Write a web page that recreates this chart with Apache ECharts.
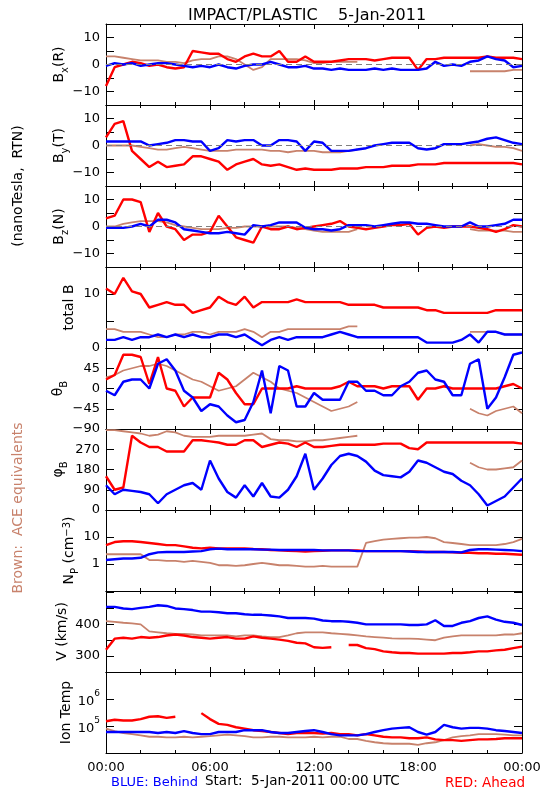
<!DOCTYPE html>
<html><head><meta charset="utf-8">
<script src="https://cdn.jsdelivr.net/npm/echarts@6/dist/echarts.min.js"></script>
<style>html,body{margin:0;padding:0;background:#fff}#c{width:550px;height:800px}</style>
</head><body><div id="c"></div><script>
// ---- data (hours since 00:00 UTC, 5-Jan-2011) ----
const hours = [0,0.5,1,1.5,2,2.5,3,3.5,4,4.5,5,5.5,6,6.5,7,7.5,8,8.5,9,9.5,10,10.5,11,11.5,12,12.5,13,13.5,14,14.5,15,15.5,16,16.5,17,17.5,18,18.5,19,19.5,20,20.5,21,21.5,22,22.5,23,23.5,24];
const timeLabels = ['00:00','06:00','12:00','18:00','00:00'];
const _ = null;
const bxRed   = [-8,-1,0,1,0.5,-0.5,0,-1,-1.5,-1,5,4.5,4,4,2,1,3,4,3,3,5,1,1,3,1,1,1,1.5,2,2,2,1.5,2,2.5,2.5,2.5,-2,2,2,2.5,2.5,2.5,2.5,2.5,3,2.5,2.5,2.5,2];
const bxBlue  = [-0.5,0.5,0,0.5,-0.5,0,0.5,0.5,0,-0.5,-1,-0.5,-1,0,-1,-1.5,-0.5,0,0,1,0,-1,-1,-0.5,-1.5,-1.5,-2,-1.5,-2,-2,-2,-1.5,-2,-1.5,-2,-2,-2,-1.5,1,-0.5,0,-0.5,1,1.5,3,2,1.5,-1,-0.5];
const bxBrown = [3,3,2.5,2,1.5,1.5,1.5,1,1,0.5,1.5,2,2,3,3,2,0,-2,-1,2,2,2,2,1.5,0.5,0.5,1,1,1,1,_,_,_,_,_,_,_,_,_,_,_,_,-2.5,-2.5,-2.5,-2.5,-2.5,-2,-2];
const byRed   = [3,8,9,-2,-5,-8,-6,-8,-7.5,-7,-4,-4,-5,-6,-9,-7,-6,-5,-7,-7.5,-7,-8,-9,-8.5,-9,-9,-9,-8.5,-8.5,-8.5,-8,-8,-8,-7.5,-7.5,-7.5,-7,-7,-7,-6.5,-6.5,-6.5,-6.5,-6.5,-6.5,-6.5,-6.5,-6.5,-7];
const byBlue  = [1.5,1.5,1.5,1.5,1.5,0,0.5,1,2,2,1.5,1.5,-2,-1,2,1.5,2,2,0,0,2,2,1.5,-2,1.5,1,-2,-2,-2,-1.5,-1,0,0.5,1,1,1,-1,-1.5,-1,0.5,0.5,0.5,1,1.5,2.5,3,2,1,0.5];
const byBrown = [0,0,0,0,-0.5,-1,-1.5,-1.5,-1,-0.5,-1,-1.5,-2,-2,-2,-1.5,-1.5,-1.5,-1.5,-2,-2,-2.5,-2,-2,-2,-2.5,-2.5,-2.5,-2,-1.5,_,_,_,_,_,_,_,_,_,_,_,_,0,0.5,0,-0.5,-0.5,-1,-2];
const bzRed   = [3,4,10,10,9,-2,5,0,-1,-5,-3,-3,-2,4,0,-4,-5,-6,0,-1,-1,0,-1,-0.5,0,0.5,1,2,0,-0.5,-1,-0.5,0,0.5,0.5,1,-3,-0.5,0,-0.5,0,0,0,-0.5,-1,-2,-1,0.5,0];
const bzBlue  = [-0.5,-0.5,-0.5,0,1,0,2.5,2.5,1.5,-1,-1.5,-2,-2.5,-2.5,-2,-2.5,-3,0.5,0,0.5,1.5,1.5,1.5,-0.5,-1,-1,-1.5,-1,0.5,0.5,0.5,0,0.5,1,1.5,1.5,1,1,0.5,0,0,0,1.5,0,0,0.5,1,2.5,2.5];
const bzBrown = [0,0,1,1.5,2,2,2,1.5,0.5,0,-0.5,-1,-1,-1,-0.5,-0.5,0,0,0,0,0,0,-0.5,-1,-1.5,-2,-2,-2,-2,-1,_,_,_,_,_,_,_,_,_,_,_,_,-1,-1.5,-1.5,-1.5,-1.5,-2,-2];
const btRed   = [11,10,13,10.5,10,7.5,8,8.5,8,8,6.5,7,7.5,9.5,8.5,8,9.5,7.5,8.5,8.5,8.5,8.5,9,8.5,8.5,8.5,8.5,8.5,8,8,8,8,7.5,7.5,7.5,7.5,7.5,7,7,6.5,6.5,6.5,6.5,6.5,6.5,7,7,7,7];
const btBlue  = [1.5,1.5,2,1.5,2,2,2.5,2,2.5,2,2.5,2,2,2.5,2.5,2,2.5,1.5,0.5,1.5,2,1.5,2,2,2,2,2.5,3,2.5,2,2,2,2,2,2,2,2,1,1,1,1,1.5,2.5,1,3,3,2.5,2.5,2.5];
const btBrown = [3.5,3.5,3,3,3,2.5,2,2,2.5,2.5,3,3,2.5,3,3,3,3.5,3,2,3,3,3.5,3.5,3.5,3.5,3.5,3.5,3.5,4,4,_,_,_,_,_,_,_,_,_,_,_,_,3,3,3,3,2.5,2.5,2.5];
const thRed   = [20,30,75,75,70,10,70,0,-5,-40,-20,-20,-20,35,20,-10,-35,-35,0,0,0,0,5,0,0,0,0,5,15,5,5,5,0,5,5,5,-25,0,0,5,0,0,0,0,0,0,5,10,0];
const thBlue  = [-5,-15,15,20,20,0,55,65,40,-5,-20,-50,-35,-40,-60,-75,-70,-30,40,-55,50,40,-40,-40,-10,-25,-25,-25,15,15,-5,-5,-15,-15,5,15,35,40,20,15,-15,-15,55,65,-45,-20,25,75,80];
const thBrown = [25,30,40,45,50,50,55,50,40,30,20,15,5,-5,0,5,20,35,25,15,0,-5,-10,-20,-30,-40,-50,-45,-40,-30,_,_,_,_,_,_,_,_,_,_,_,_,-45,-55,-60,-50,-45,-40,-55];
const phRed   = [150,90,100,330,300,280,280,260,260,260,310,310,305,300,290,290,310,310,280,290,300,295,280,300,280,280,285,290,290,290,290,290,295,295,295,275,270,300,300,300,300,300,300,300,300,300,300,300,295];
const phBlue  = [110,70,90,85,80,70,30,70,90,110,120,90,220,140,80,55,110,60,120,60,55,90,150,250,90,140,200,240,250,240,215,175,155,150,145,170,220,210,190,170,160,130,110,70,20,40,60,100,140];
const phBrown = [355,355,350,345,340,330,335,350,345,330,325,325,325,330,330,330,330,335,340,315,310,310,305,305,310,310,315,320,325,330,_,_,_,_,_,_,_,_,_,_,_,_,210,190,180,180,185,190,220];
const npRed   = [5,6.5,7,7,6.5,6,5.5,5,5,4.5,4,3.8,4,3.8,3.8,3.8,3.8,3.6,3.5,3.3,3.2,3.1,3,2.9,3,3.1,3.2,3.2,3.2,3.2,3,3,3,3,3,3,2.9,2.8,2.8,2.8,2.7,2.6,2.6,2.5,2.5,2.4,2.4,2.3,2.2];
const npBlue  = [1.4,1.5,1.6,1.6,1.7,2.3,2.7,2.8,2.8,2.8,2.9,3,3.5,3.7,3.5,3.5,3.5,3.5,3.4,3.4,3.3,3.3,3.3,3.3,3.3,3.2,3.2,3.2,3.2,3,3,3,3,3,3,2.9,2.8,2.8,2.8,2.8,2.8,2.7,3.3,3.5,3.5,3.4,3.3,3.2,3];
const npBrown = [2.3,2.3,2.3,2.3,2.3,1.4,1.4,1.3,1.3,1.2,1.3,1.2,1.1,0.9,0.9,0.85,0.9,1,1.1,1,0.9,0.9,0.85,0.8,0.8,0.85,0.8,0.8,0.8,0.8,6,7,8,8.5,9,9.5,9.5,10,9,6.5,6,5.5,5,5,5,5,5.5,6.5,8.5];
const vRed    = [320,355,358,355,360,358,360,365,368,365,360,358,355,358,360,355,355,362,358,355,352,348,342,340,328,326,328,_,335,335,325,322,315,312,310,310,308,308,308,308,310,310,312,315,315,318,320,325,330];
const vBlue   = [455,455,450,448,452,455,460,458,450,448,445,440,440,438,435,435,432,430,430,428,425,420,420,420,418,412,410,410,408,405,400,400,400,400,400,398,398,400,413,395,395,405,410,420,425,415,408,405,398];
const vBrown  = [410,408,405,403,400,378,375,372,370,370,368,365,365,365,365,362,365,365,362,360,360,365,372,375,375,375,372,370,368,365,362,360,358,356,355,355,354,352,350,358,362,365,365,365,365,365,368,368,372];
const tRed    = [1.5e5,1.7e5,1.6e5,1.6e5,1.8e5,2.2e5,2.3e5,2e5,2.2e5,_,_,3e5,1.8e5,1.2e5,1.1e5,9e4,8e4,7e4,6.5e4,6e4,5.5e4,5e4,5.5e4,5.5e4,5.5e4,5.2e4,5.5e4,5e4,5e4,4.5e4,5e4,4.5e4,4e4,3.8e4,3.8e4,3.5e4,3.5e4,3.8e4,3.2e4,3e4,3e4,2.8e4,3e4,3.2e4,3.2e4,3.3e4,3.5e4,3.5e4,3.5e4];
const tBlue   = [6e4,6e4,6e4,6e4,6e4,6e4,5.5e4,6e4,5.5e4,6.5e4,5.5e4,5e4,5e4,6e4,6e4,6e4,7e4,7e4,7e4,6e4,5.5e4,5.5e4,6e4,6.5e4,7e4,6e4,5e4,4.5e4,4.5e4,4.5e4,5e4,6e4,7e4,8e4,8.5e4,9e4,6e4,4.8e4,6e4,1.1e5,9e4,8e4,8.5e4,8.5e4,8e4,7e4,6.5e4,6e4,5.5e4];
const tBrown  = [8e4,6.5e4,5.5e4,5e4,4.5e4,4e4,4e4,3.8e4,3.8e4,4e4,3.8e4,4e4,4.2e4,4.5e4,4.8e4,4.5e4,4.2e4,3.8e4,3.8e4,4e4,4e4,3.8e4,3.8e4,3.8e4,4e4,3.8e4,4e4,4e4,3.3e4,3.3e4,2.8e4,2.5e4,2.3e4,2.2e4,2.2e4,2.2e4,2e4,2.3e4,2.5e4,3e4,3.8e4,4.2e4,4.5e4,5e4,5e4,5e4,4.8e4,4.5e4,4.5e4];

// ---- style / layout ----
const F = 'DejaVu Sans';
const BLUE = '#0000ff', RED = '#ff0000', BROWN = '#c8826c';
const TOP0 = 24, H = 81, LEFT = 106, RIGHT = 28;

const num = v => (v < 0 ? '\u2212' + Math.abs(v) : String(v));
const show = list => v => (list.indexOf(Math.round(v)) >= 0 ? num(Math.round(v)) : '');
const logExp = v => Math.round(Math.log10(v));
const panels = [
  {r: bxRed, b: bxBlue, w: bxBrown, y: {type:'value', min:-15, max:15, interval:5}, fmt: show([-10,0,10]), zero:true},
  {r: byRed, b: byBlue, w: byBrown, y: {type:'value', min:-15, max:15, interval:5}, fmt: show([-10,0,10]), zero:true},
  {r: bzRed, b: bzBlue, w: bzBrown, y: {type:'value', min:-15, max:15, interval:5}, fmt: show([-10,0,10]), zero:true},
  {r: btRed, b: btBlue, w: btBrown, y: {type:'value', min:0, max:15, interval:5}, fmt: show([0,10])},
  {r: thRed, b: thBlue, w: thBrown, y: {type:'value', min:-90, max:90, interval:45}, fmt: show([-90,-45,0,45])},
  {r: phRed, b: phBlue, w: phBrown, y: {type:'value', min:0, max:360, interval:90}, fmt: show([0,90,180,270])},
  {r: npRed, b: npBlue, w: npBrown, y: {type:'log', logBase:10, min:0.1, max:100}, fmt: v => {const e = logExp(v); return e===0?'1':e===1?'10':'';}},
  {r: vRed, b: vBlue, w: vBrown, y: {type:'value', min:250, max:505, interval:50}, fmt: show([300,400])},
  {r: tRed, b: tBlue, w: tBrown, y: {type:'log', logBase:10, min:1e4, max:1e7}, fmt: v => {const e = logExp(v); return (e===5||e===6)?'{n|10}{s|'+e+'}':'';}}
];

const grids = [], xAxes = [], yAxes = [], series = [];
const lineBlack = {color:'#000', width:1};
panels.forEach((p, i) => {
  grids.push({left: LEFT, right: RIGHT, top: TOP0 + H*i, height: H, show:false});
  const xBase = {type:'value', gridIndex:i, min:0, max:24, interval:6,
    axisLine:{show:true, onZero:false, lineStyle:lineBlack},
    axisTick:{show:true, inside:true, length:5, lineStyle:lineBlack},
    minorTick:{show:true, splitNumber:3, length:3, lineStyle:lineBlack},
    splitLine:{show:false}, minorSplitLine:{show:false}};
  xAxes.push(Object.assign({}, xBase, {position:'bottom',
    axisLabel:{show: i === panels.length-1, color:'#000', fontFamily:F, fontSize:13, margin:8,
      formatter: v => timeLabels[Math.round(v/6)]}}));
  xAxes.push(Object.assign({}, xBase, {position:'top', axisLabel:{show:false}}));
  const yBase = Object.assign({gridIndex:i,
    axisLine:{show:true, onZero:false, lineStyle:lineBlack},
    axisTick:{show:true, inside:true, length:8, lineStyle:lineBlack},
    splitLine:{show:false}}, p.y);
  yAxes.push(Object.assign({}, yBase, {position:'left',
    axisLabel:{show:true, color:'#000', fontFamily:F, fontSize:13, margin:6, formatter:p.fmt, showMinLabel:true, showMaxLabel:true,
      rich:{n:{fontFamily:F, fontSize:13, padding:[6,0,0,0]}, s:{fontFamily:F, fontSize:9, verticalAlign:'top'}}}}));
  yAxes.push(Object.assign({}, yBase, {position:'right', axisLabel:{show:false}}));
  const mk = (arr, color, w, z) => ({type:'line', xAxisIndex:2*i, yAxisIndex:2*i, z:z,
    data: hours.map((h,k) => [h, arr[k]]), showSymbol:false, connectNulls:false, animation:false,
    lineStyle:{color:color, width:w}, itemStyle:{color:color}, clip:true});
  const sw = mk(p.w, BROWN, 1.8, 2);
  if (p.zero) sw.markLine = {silent:true, symbol:'none', animation:false, label:{show:false},
    lineStyle:{color:'#808080', type:[6,4], width:1}, data:[{yAxis:0}]};
  series.push(sw, mk(p.r, RED, 2.4, 3), mk(p.b, BLUE, 2.4, 4));
});

const FS = 14;
const sub = {fontFamily:F, fontSize:10, verticalAlign:'bottom'};
const nrm = {fontFamily:F, fontSize:FS, padding:[0,0,4,0]};
function vtext(x, y, text, color, rich) {
  return {type:'text', x:x, y:y, rotation:Math.PI/2, silent:true,
    style:{text:text, fill:color||'#000', font:FS+'px "'+F+'"', align:'center', verticalAlign:'middle',
      textAlign:'center', textVerticalAlign:'middle', rich:rich||{}}};
}
function htext(x, y, text, color, align, fs) {
  return {type:'text', x:x, y:y, silent:true,
    style:{text:text, fill:color, font:fs+'px "'+F+'"', align:align, verticalAlign:'middle', textAlign:align, textVerticalAlign:'middle'}};
}
const pc = i => TOP0 + H*i + H/2;
const R = {n:nrm, s:sub};
const graphic = [
  vtext(61, pc(0), '{n|B}{s|x}{n|(R)}', '#000', R),
  vtext(61, pc(1), '{n|B}{s|y}{n|(T)}', '#000', R),
  vtext(61, pc(2), '{n|B}{s|z}{n|(N)}', '#000', R),
  vtext(69, pc(3), 'total B'),
  vtext(60, pc(4), '{n|θ}{s|B}', '#000', R),
  vtext(60, pc(5), '{n|φ}{s|B}', '#000', R),
  vtext(71, pc(6), '{n|N}{s|P}{n| (cm}{u|\u22123}{n|)}', '#000', {n:nrm, s:sub, u:{fontFamily:F, fontSize:10, verticalAlign:'top', padding:[0,0,8,0]}}),
  vtext(62, pc(7), 'V (km/s)'),
  vtext(66, pc(8), 'Ion Temp'),
  vtext(18, 186, '(nanoTesla,  RTN)'),
  vtext(18, 508, 'Brown:  ACE equivalents', BROWN),
  htext(111, 783, 'BLUE: Behind', BLUE, 'left', 13),
  htext(205, 781, 'Start:  5-Jan-2011 00:00 UTC', '#000', 'left', 13.5),
  htext(525, 783, 'RED: Ahead', RED, 'right', 13.5)
];

const chart = echarts.init(document.getElementById('c'), null, {renderer:'canvas'});
chart.setOption({
  animation:false,
  backgroundColor:'#fff',
  title:{text:'IMPACT/PLASTIC    5-Jan-2011', left:302, top:3, textAlign:'center',
    textStyle:{fontFamily:F, fontSize:16, fontWeight:'normal', color:'#000'}},
  grid:grids, xAxis:xAxes, yAxis:yAxes, series:series, graphic:graphic
});
</script></body></html>
